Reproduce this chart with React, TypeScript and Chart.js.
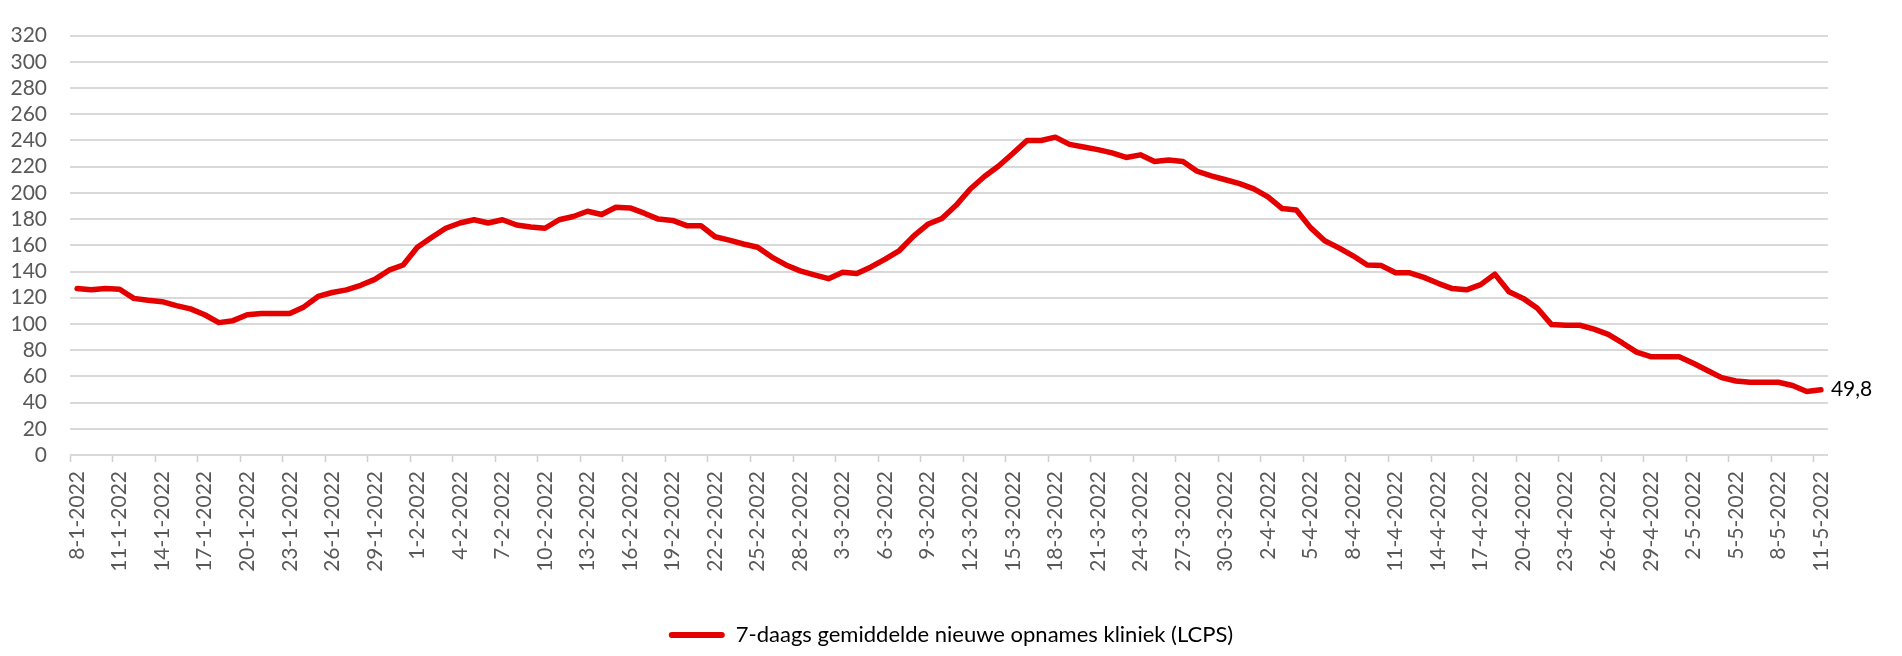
import React, { useEffect, useRef } from "react";
import { Chart, registerables } from "chart.js";

Chart.register(...registerables);

// Categories: one per day, 8-1-2022 .. 11-5-2022
const monthSpans: [number, number, number][] = [
  [1, 8, 31],
  [2, 1, 28],
  [3, 1, 31],
  [4, 1, 30],
  [5, 1, 11],
];
const dateLabels: string[] = [];
for (const [m, from, to] of monthSpans) {
  for (let d = from; d <= to; d++) dateLabels.push(`${d}-${m}-2022`);
}

const seriesName = "7-daags gemiddelde nieuwe opnames kliniek (LCPS)";

const janValues = [127, 126, 127, 126.5, 119.5, 118, 117, 114, 111.5, 107, 101, 102.5, 107, 108, 108, 108, 113, 121, 124, 126, 129.5, 134, 141, 145];
const febValues = [158.5, 166, 173, 177, 179.5, 177, 179.5, 175.5, 174, 173, 179.5, 182, 186, 183.5, 189, 188.5, 184.5, 180, 179, 175, 175, 166.5, 164, 161, 158.5, 151, 145, 140.5];
const marValues = [137.5, 134.5, 139.5, 138.5, 143.5, 149.5, 156, 167, 176, 180.5, 190.5, 203, 212.5, 220.5, 230, 240, 240, 242.5, 237, 235, 233, 230.5, 227, 229, 224, 225, 224, 216.5, 213, 210, 207];
const aprValues = [203, 197, 188, 187, 173.5, 163.5, 158, 152, 145, 144.5, 139, 139, 135.5, 131, 127, 126, 130, 138, 124.5, 119.5, 112, 99.5, 99, 99, 96, 92, 85.5, 78.5, 75, 75];
const mayValues = [75, 70, 64.5, 59, 56.5, 55.5, 55.5, 55.5, 53, 48.5, 49.8];

const admissions = [...janValues, ...febValues, ...marValues, ...aprValues, ...mayValues];

const yMin = 0;
const yMax = 320;
const yStep = 20;

const lineColor = "#e50000";
const gridColor = "#d9d9d9";
const tickTextColor = "#595959";
const fontFamily = "Lato, 'Open Sans', sans-serif";

const lastValueLabel = {
  id: "lastValueLabel",
  afterDatasetsDraw(chart: any) {
    const meta = chart.getDatasetMeta(0);
    const i = admissions.length - 1;
    const el = meta.data[i];
    if (!el) return;
    const ctx = chart.ctx;
    ctx.save();
    ctx.font = `21px ${fontFamily}`;
    ctx.fillStyle = "#000";
    ctx.textAlign = "left";
    ctx.textBaseline = "middle";
    ctx.fillText(String(admissions[i]).replace(".", ","), el.x + 10, el.y);
    ctx.restore();
  },
};

export default function App() {
  const ref = useRef<HTMLCanvasElement>(null);

  useEffect(() => {
    if (!ref.current) return;
    Chart.defaults.font.family = fontFamily;
    const chart = new Chart(ref.current, {
      type: "line",
      data: {
        labels: dateLabels,
        datasets: [
          {
            label: seriesName,
            data: admissions,
            borderColor: lineColor,
            backgroundColor: lineColor,
            borderWidth: 5.5,
            pointRadius: 0,
            pointHoverRadius: 0,
            tension: 0,
            fill: false,
            borderJoinStyle: "round",
            borderCapStyle: "round",
          },
        ],
      },
      options: {
        animation: false,
        responsive: true,
        maintainAspectRatio: false,
        layout: { padding: { left: 0, right: 0, top: 21.5, bottom: 0 } },
        plugins: {
          tooltip: { enabled: false },
          title: { display: false },
          legend: {
            display: true,
            position: "bottom",
            labels: {
              boxWidth: 56,
              boxHeight: 6,
              padding: 8,
              color: "#000",
              font: { size: 22, family: fontFamily },
              generateLabels: () => [
                {
                  text: seriesName,
                  fillStyle: lineColor,
                  strokeStyle: lineColor,
                  lineWidth: 0,
                  hidden: false,
                  datasetIndex: 0,
                  fontColor: "#000",
                  borderRadius: 3,
                } as any,
              ],
            },
          },
        },
        scales: {
          x: {
            type: "category",
            offset: true,
            grid: {
              offset: true,
              drawOnChartArea: false,
              drawTicks: true,
              tickLength: 7,
              tickWidth: 1.5,
              tickColor: (c: any) => (c.index % 3 === 0 ? "#cfcfcf" : "rgba(0,0,0,0)"),
            },
            border: { display: false },
            ticks: {
              autoSkip: false,
              maxRotation: 90,
              minRotation: 90,
              padding: 9,
              color: tickTextColor,
              font: { size: 21, family: fontFamily },
              callback: (_v: any, i: number) => (i % 3 === 0 ? dateLabels[i] : ""),
            },
            afterFit: (s: any) => {
              const lg = s.chart.legend;
              const lh = lg && lg.height ? lg.height : 42;
              s.height = 656 - 455 - lh;
            },
          },
          y: {
            min: yMin,
            max: yMax,
            ticks: {
              stepSize: yStep,
              autoSkip: false,
              padding: 23,
              color: tickTextColor,
              font: { size: 21, family: fontFamily },
            },
            grid: { color: gridColor, lineWidth: 2, drawTicks: false },
            border: { display: false },
            afterFit: (s: any) => {
              s.width = 70;
            },
          },
          yRightSpace: {
            type: "linear",
            position: "right",
            display: true,
            grid: { display: false, drawTicks: false },
            border: { display: false },
            ticks: { display: false },
            afterFit: (s: any) => {
              s.width = 74;
            },
          },
        },
      },
      plugins: [lastValueLabel],
    });
    return () => chart.destroy();
  }, []);

  return (
    <div style={{ position: "absolute", left: 0, top: 0, width: 1902, height: 656, background: "#fff" }}>
      <canvas ref={ref} />
    </div>
  );
}
